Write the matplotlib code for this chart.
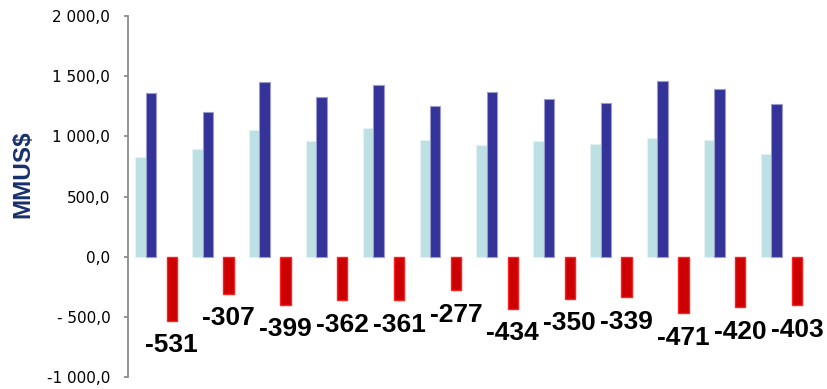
import numpy as np
import matplotlib
matplotlib.use("Agg")
import matplotlib.pyplot as plt

# values (MMUS$)
light_vals = [827, 896, 1052, 962, 1068, 971, 927, 962, 937, 986, 971, 857]
dark_vals = [1356, 1204, 1451, 1323, 1428, 1248, 1365, 1312, 1279, 1462, 1393, 1265]
red_vals = [-531, -307, -399, -362, -361, -277, -434, -350, -339, -471, -420, -403]

yticks = [-1000, -500, 0, 500, 1000, 1500, 2000]
ytick_labels = ['-1 000,0', '- 500,0', '0,0', '500,0', '1 000,0', '1 500,0', '2 000,0']

fig = plt.figure(figsize=(8.27, 3.89), dpi=100)
ax = fig.add_axes([0.1544, 0.0308, 0.8250, 0.9281])

x = np.arange(len(light_vals))
w = 0.183

ax.bar(x - 1.5 * w, light_vals, w, color='#BCE0E3', edgecolor='#E4F2F3', linewidth=0.8)
ax.bar(x - 0.5 * w, dark_vals, w, color='#333399', edgecolor='#9C9CCB', linewidth=0.8)
ax.bar(x + 1.5 * w, red_vals, w, color='#CC0000', edgecolor='#FF2020', linewidth=1.0)

# value labels under the red bars
for xi, v in zip(x, red_vals):
    ax.annotate(str(v), (xi + 1.5 * w, v), xytext=(0, -9), textcoords='offset points',
                ha='center', va='top', fontsize=19, fontweight='bold',
                family='Liberation Sans', color='black')

ax.set_xlim(-0.5, len(light_vals) - 0.5)
ax.set_ylim(-1000, 2000)
ax.set_yticks(yticks)
ax.set_yticklabels(ytick_labels, fontsize=11, family='DejaVu Sans')
ax.set_xticks([])

for s in ['top', 'right', 'bottom']:
    ax.spines[s].set_visible(False)
ax.spines['left'].set_color('#8C8C8C')
ax.spines['left'].set_linewidth(1.3)
ax.tick_params(axis='y', length=3, width=1.3, color='#8C8C8C', pad=9.5)

fig.text(22.5 / 827, 1 - 174 / 389, 'MMUS$', rotation=90, ha='center', va='center',
         fontsize=17.5, fontweight='bold', family='Liberation Sans', color='#17306B')

fig.savefig('out.png', dpi=100)
